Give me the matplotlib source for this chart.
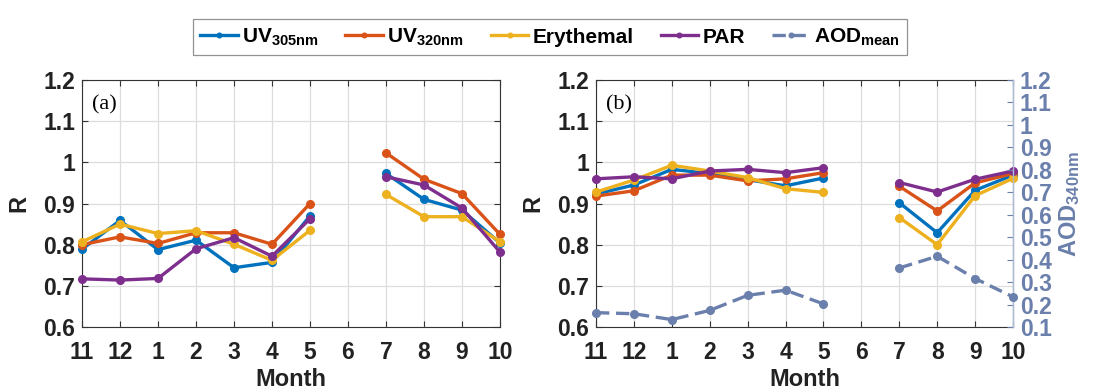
import numpy as np
import matplotlib
matplotlib.use("Agg")
import matplotlib.pyplot as plt

plt.rcParams['font.family'] = ['Liberation Sans', 'DejaVu Sans']
plt.rcParams['font.weight'] = 'bold'
plt.rcParams['mathtext.fontset'] = 'custom'
plt.rcParams['mathtext.rm'] = 'Liberation Sans:bold'
plt.rcParams['mathtext.it'] = 'Liberation Sans:bold'
plt.rcParams['mathtext.bf'] = 'Liberation Sans:bold'
plt.rcParams['mathtext.default'] = 'rm'

months = ['11', '12', '1', '2', '3', '4', '5', '6', '7', '8', '9', '10']
nan = np.nan

# Panel (a)
a_uv305 = [0.789, 0.859, 0.788, 0.811, 0.744, 0.757, 0.870, nan, 0.973, 0.910, 0.884, 0.804]
a_uv320 = [0.800, 0.819, 0.803, 0.829, 0.829, 0.801, 0.900, nan, 1.023, 0.959, 0.924, 0.825]
a_ery   = [0.807, 0.850, 0.827, 0.834, 0.801, 0.762, 0.835, nan, 0.922, 0.868, 0.868, 0.807]
a_par   = [0.717, 0.714, 0.718, 0.790, 0.817, 0.772, 0.863, nan, 0.965, 0.945, 0.889, 0.782]

# Panel (b)
b_uv305 = [0.923, 0.945, 0.983, 0.973, 0.958, 0.943, 0.962, nan, 0.902, 0.829, 0.932, 0.969]
b_uv320 = [0.918, 0.931, 0.969, 0.969, 0.955, 0.960, 0.975, nan, 0.942, 0.882, 0.950, 0.973]
b_ery   = [0.928, 0.957, 0.993, 0.979, 0.963, 0.936, 0.927, nan, 0.866, 0.800, 0.919, 0.961]
b_par   = [0.960, 0.965, 0.960, 0.979, 0.983, 0.975, 0.987, nan, 0.951, 0.928, 0.959, 0.979]
aod     = [0.164, 0.159, 0.133, 0.174, 0.241, 0.264, 0.203, nan, 0.363, 0.415, 0.316, 0.234]

r_ticks = [0.6, 0.7, 0.8, 0.9, 1.0, 1.1, 1.2]
r_labels = ['0.6', '0.7', '0.8', '0.9', '1', '1.1', '1.2']
aod_ticks = [0.1, 0.2, 0.3, 0.4, 0.5, 0.6, 0.7, 0.8, 0.9, 1.0, 1.1, 1.2]
aod_labels = ['0.1', '0.2', '0.3', '0.4', '0.5', '0.6', '0.7', '0.8', '0.9', '1', '1.1', '1.2']

C_BLUE = '#0072BD'
C_ORANGE = '#D95319'
C_YELLOW = '#EDB120'
C_PURPLE = '#7E2F8E'
C_AOD = '#6A7FAB'

names = ['UV$_{305nm}$', 'UV$_{320nm}$', 'Erythemal', 'PAR']
colors = [C_BLUE, C_ORANGE, C_YELLOW, C_PURPLE]

fig = plt.figure(figsize=(10.95, 3.92), dpi=100)
axA = fig.add_axes([0.0749, 0.1658, 0.3817, 0.630])
axB = fig.add_axes([0.5443, 0.1658, 0.3808, 0.630])

x = np.arange(len(months))
LW = 2.4
MS = 5.5
FS = 16.5

def style(ax, tag):
    ax.set_xlim(0, len(months) - 1)
    ax.set_ylim(0.6, 1.2)
    ax.set_xticks(x)
    ax.set_xticklabels(months)
    ax.set_yticks(r_ticks)
    ax.set_yticklabels(r_labels)
    ax.grid(True, color='#DDDDDD', linewidth=0.9)
    ax.set_axisbelow(True)
    ax.tick_params(axis='both', direction='in', labelsize=FS, length=4, color='#333333', top=True)
    ax.tick_params(axis='x', pad=10)
    ax.tick_params(axis='y', pad=5)
    for lab in ax.get_xticklabels() + ax.get_yticklabels():
        lab.set_fontweight('bold')
        lab.set_color('#222222')
    for s in ax.spines.values():
        s.set_color('#333333')
        s.set_linewidth(0.8)
    ax.set_xlabel('Month', fontsize=17, fontweight='bold', color='#222222', labelpad=3)
    ax.set_ylabel('R', fontsize=17, fontweight='bold', color='#222222', labelpad=9)
    ax.text(0.025, 0.9, tag, transform=ax.transAxes, fontsize=16,
            family=['Liberation Serif', 'DejaVu Serif'], fontweight='normal', va='center')

handles = []
for data, c, n in zip([a_uv305, a_uv320, a_ery, a_par], colors, names):
    h, = axA.plot(x, data, '-o', color=c, lw=LW, ms=MS, label=n, clip_on=False, zorder=3)
    handles.append(h)
for data, c in zip([b_uv305, b_uv320, b_ery, b_par], colors):
    axB.plot(x, data, '-o', color=c, lw=LW, ms=MS, clip_on=False, zorder=3)

style(axA, '(a)')
style(axB, '(b)')
axB.tick_params(axis='y', right=False)
axA.tick_params(axis='y', right=True)

axR = axB.twinx()
hA, = axR.plot(x, aod, '--o', color=C_AOD, lw=LW, ms=MS, dashes=(4, 2), label='AOD$_{mean}$', clip_on=False, zorder=3)
handles.append(hA)
axR.set_ylim(0.1, 1.2)
axR.set_yticks(aod_ticks)
axR.set_yticklabels(aod_labels)
axR.tick_params(axis='y', direction='in', labelsize=FS, length=4, colors=C_AOD, pad=5)
for lab in axR.get_yticklabels():
    lab.set_fontweight('bold')
axR.spines['right'].set_color('#B0BCD6')
axR.spines['right'].set_linewidth(1.0)
for k in ['left', 'top', 'bottom']:
    axR.spines[k].set_visible(False)
axR.set_ylabel('AOD$_{340nm}$', fontsize=17, fontweight='bold', color=C_AOD, labelpad=4)

leg = fig.legend(handles=handles, loc='center', bbox_to_anchor=(0.502, 0.905), ncol=5,
                 fontsize=15, frameon=True, fancybox=False, edgecolor='#777777',
                 handlelength=1.8, handletextpad=0.2, columnspacing=1.3, borderpad=0.35,
                 markerscale=0.6)
leg.get_frame().set_linewidth(0.9)
for t in leg.get_texts():
    t.set_fontweight('bold')

fig.savefig('out.png', dpi=100, facecolor='white')
